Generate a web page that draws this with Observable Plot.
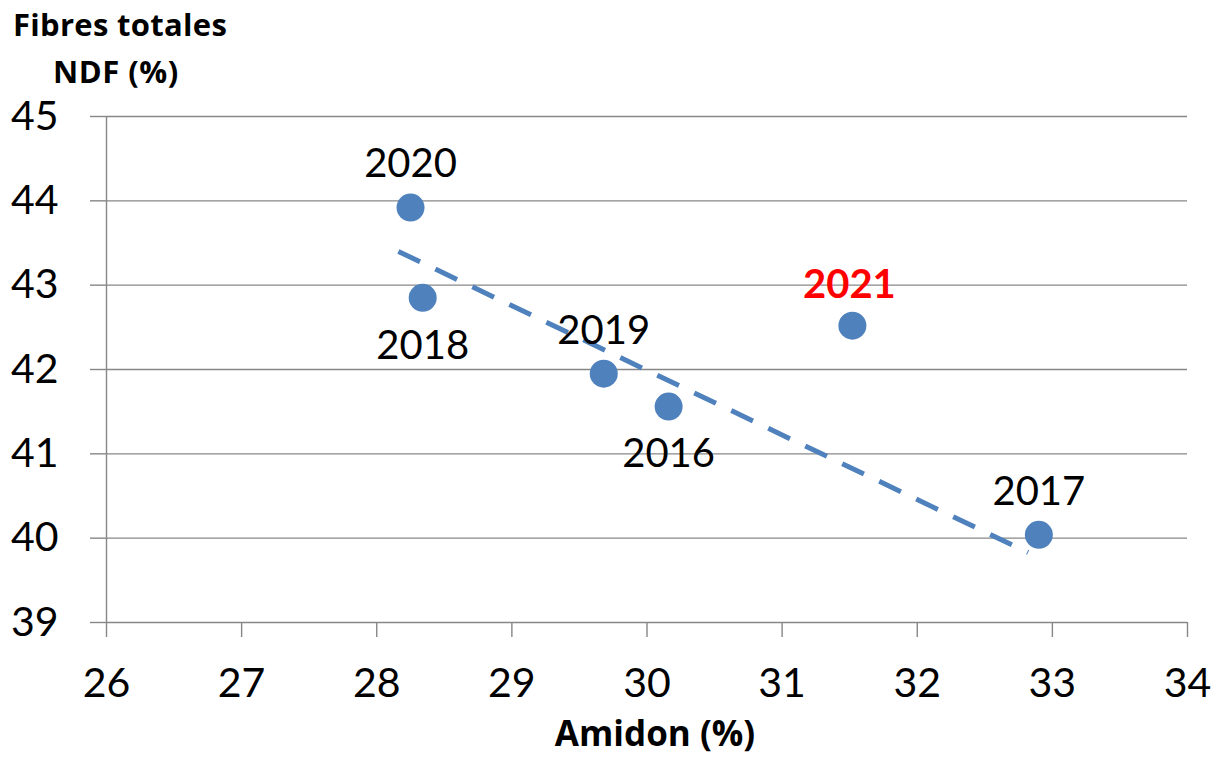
<!DOCTYPE html>
<html>
<head>
<meta charset="utf-8">
<script src="https://cdn.jsdelivr.net/npm/d3@7"></script>
<script src="https://cdn.jsdelivr.net/npm/@observablehq/plot@0.6"></script>
<style>
  html, body { margin: 0; padding: 0; background: #fff; }
  #wrap { position: relative; width: 1215px; height: 758px; font-family: Lato, "Open Sans", sans-serif; }
  .lab { position: absolute; font-family: "Open Sans", sans-serif; font-weight: bold; color: #000; white-space: nowrap; line-height: 1; }
</style>
</head>
<body>
<div id="wrap">
  <div class="lab" id="yl1" style="left:13px; top:9px; font-size:31px; letter-spacing:0.3px;">Fibres totales</div>
  <div class="lab" id="yl2" style="left:53px; top:56px; font-size:31px; letter-spacing:0.5px;">NDF (%)</div>
  <div class="lab" id="xl" style="left:655px; top:715px; font-size:35px; transform:translateX(-50%);">Amidon (%)</div>
</div>
<script>
// Data
const years   = ["2016", "2017", "2018", "2019", "2020", "2021"];
const amidon  = [30.16, 32.90, 28.34, 29.68, 28.25, 31.52];
const ndf     = [41.56, 40.04, 42.85, 41.95, 43.92, 42.52];
const highlightYear = "2021";
// dashed trend line end points
const trendX = [28.16, 32.82];
const trendY = [43.40, 39.83];
const xTicks = [26, 27, 28, 29, 30, 31, 32, 33, 34];
const yTicks = [39, 40, 41, 42, 43, 44, 45];

const points = years.map((y, i) => ({year: y, x: amidon[i], y: ndf[i]}));
const trend = trendX.map((x, i) => ({x, y: trendY[i]}));
const below = new Set(["2018", "2016"]);
const grey = "#878787";
const font = "Lato, 'Open Sans', sans-serif";

const chart = Plot.plot({
  width: 1215,
  height: 758,
  marginLeft: 106,
  marginRight: 28,
  marginTop: 116,
  marginBottom: 136,
  style: {fontFamily: font, background: "transparent", overflow: "visible"},
  x: {domain: [26, 34], ticks: xTicks},
  y: {domain: [39, 45], ticks: yTicks},
  marks: [
    Plot.ruleY(yTicks, {y: d => d, x1: 26, x2: 34, stroke: grey, strokeWidth: 1.4}),
    Plot.ruleX([26], {stroke: grey, strokeWidth: 1.4}),
    Plot.axisX({ticks: xTicks, tickSize: 15, tickPadding: 30, fontSize: 41, stroke: grey, strokeWidth: 1.4, strokeOpacity: 1, color: "#000", label: null, tickFormat: d => d}),
    Plot.axisY({ticks: yTicks, tickSize: 16, tickPadding: 32, fontSize: 41, stroke: grey, strokeWidth: 1.4, strokeOpacity: 1, color: "#000", label: null, tickFormat: d => d}),
    Plot.line(trend, {x: "x", y: "y", stroke: "#4F81BD", strokeWidth: 5, strokeDasharray: "24,17", strokeLinecap: "butt"}),
    Plot.dot(points, {x: "x", y: "y", r: 14, fill: "#4F81BD", stroke: "none"}),
    Plot.text(points.filter(d => d.year !== highlightYear && !below.has(d.year)), {
      x: "x", y: "y", text: "year", fontSize: 40, fill: "#000", dy: -43, lineAnchor: "middle"
    }),
    Plot.text(points.filter(d => below.has(d.year)), {
      x: "x", y: "y", text: "year", fontSize: 40, fill: "#000", dy: 48, lineAnchor: "middle"
    }),
    Plot.text(points.filter(d => d.year === highlightYear), {
      x: "x", y: "y", text: "year", fontSize: 40, fill: "#FF0000", fontWeight: "bold", dy: -40, dx: -3, lineAnchor: "middle"
    })
  ]
});
document.getElementById("wrap").prepend(chart);
chart.style.position = "absolute";
chart.style.left = "0px";
chart.style.top = "0px";
</script>
</body>
</html>
